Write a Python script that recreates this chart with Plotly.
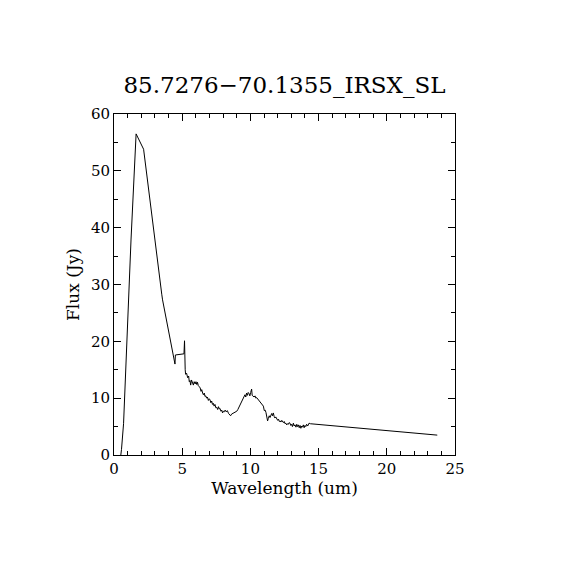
import plotly.graph_objects as go

# photometry points + IRS SL spectrum + long-wavelength point
wavelength = [
    0.50, 0.55, 0.70, 1.25, 1.62, 2.17, 3.50, 3.56, 4.47, 4.50, 5.13, 5.17,
    5.22, 5.25, 5.32, 5.40, 5.47, 5.52, 5.57, 5.62, 5.68, 5.74, 5.82, 5.88,
    5.95, 6.01, 6.07, 6.12, 6.18, 6.26, 6.32, 6.38, 6.43, 6.50, 6.55, 6.62,
    6.67, 6.73, 6.79, 6.85, 6.92, 6.98, 7.04, 7.10, 7.16, 7.22, 7.28, 7.34,
    7.40, 7.47, 7.53, 7.60, 7.66, 7.72, 7.77, 7.84, 7.90, 7.96, 8.02, 8.08,
    8.15, 8.22, 8.31, 8.40, 8.48, 8.55, 8.62, 8.70, 8.78, 8.86, 8.94, 9.00,
    9.08, 9.16, 9.24, 9.32, 9.40, 9.48, 9.55, 9.60, 9.66, 9.72, 9.78, 9.84,
    9.90, 9.96, 10.02, 10.09, 10.13, 10.20, 10.27, 10.34, 10.40, 10.46, 10.52,
    10.58, 10.65, 10.72, 10.80, 10.88, 10.95, 11.02, 11.08, 11.14, 11.20,
    11.26, 11.31, 11.38, 11.44, 11.50, 11.56, 11.62, 11.68, 11.74, 11.80,
    11.86, 11.93, 12.00, 12.06, 12.12, 12.18, 12.24, 12.30, 12.36, 12.42,
    12.48, 12.54, 12.60, 12.66, 12.72, 12.78, 12.84, 12.90, 12.96, 13.02,
    13.08, 13.15, 13.21, 13.27, 13.34, 13.40, 13.46, 13.52, 13.58, 13.64,
    13.70, 13.76, 13.82, 13.88, 13.94, 14.00, 14.06, 14.12, 14.20, 14.30,
    14.40, 23.70,
]

flux = [
    0.0, 1.0, 5.5, 38.0, 56.5, 53.8, 28.3, 27.3, 16.0, 17.6, 17.8, 20.1,
    15.0, 14.2, 14.4, 13.6, 13.9, 12.9, 13.1, 12.3, 13.2, 12.6, 12.3, 12.9,
    12.5, 12.9, 12.4, 12.8, 12.2, 12.0, 11.8, 11.2, 11.5, 10.9, 10.6, 10.9,
    10.3, 10.4, 10.0, 10.2, 9.6, 9.9, 9.7, 9.2, 9.5, 8.9, 9.1, 8.6,
    8.9, 8.3, 8.4, 8.0, 8.5, 8.1, 8.2, 7.7, 7.9, 7.4, 7.7, 7.6,
    7.9, 7.6, 7.8, 7.3, 7.1, 6.9, 7.2, 7.3, 7.4, 7.5, 7.6, 7.7,
    8.0, 8.4, 8.8, 9.3, 9.7, 10.0, 10.5, 10.6, 10.2, 10.9, 10.5, 11.0,
    10.8, 10.4, 11.0, 11.6, 10.5, 10.4, 10.2, 10.4, 10.0, 10.1, 9.9,
    9.7, 9.5, 9.3, 9.0, 8.8, 8.6, 7.8, 7.9, 7.5, 6.6,
    6.0, 6.4, 6.9, 6.6, 7.0, 7.3, 6.9, 7.4, 6.8, 6.5,
    6.7, 6.3, 6.1, 6.3, 5.9, 6.0, 5.8, 6.1, 5.8, 5.7,
    5.9, 5.5, 5.6, 5.3, 5.5, 5.4, 5.7, 5.6, 5.2, 5.4,
    5.0, 5.6, 5.1, 5.3, 4.9, 5.4, 5.0, 5.3, 4.8, 5.2,
    4.7, 5.1, 4.9, 5.3, 4.8, 5.2, 5.0, 5.4, 5.1, 5.6,
    5.5, 3.5,
]

font = "DejaVu Serif"

fig = go.Figure()
fig.add_trace(go.Scatter(x=wavelength, y=flux, mode="lines",
                         line=dict(color="black", width=1)))

axis_style = dict(
    showline=True, linecolor="black", linewidth=1, mirror="ticks",
    ticks="inside", tickcolor="black", ticklen=7, tickwidth=1,
    showgrid=False, zeroline=False,
    tickfont=dict(family=font, size=15, color="black"),
)

fig.update_xaxes(range=[0, 25], dtick=5,
                 minor=dict(dtick=1, ticks="inside", ticklen=4, tickcolor="black"),
                 title=dict(text="Wavelength (um)", standoff=4,
                            font=dict(family=font, size=17, color="black")),
                 **axis_style)
fig.update_yaxes(range=[0, 60], dtick=10,
                 minor=dict(dtick=5, ticks="inside", ticklen=4, tickcolor="black"),
                 title=dict(text="Flux (Jy)", standoff=6,
                            font=dict(family=font, size=17, color="black")),
                 **axis_style)

fig.update_layout(
    width=570, height=570,
    margin=dict(l=106, r=123, t=106, b=123),
    plot_bgcolor="white", paper_bgcolor="white",
    showlegend=False,
    title=dict(text="85.7276\u221270.1355_IRSX_SL", x=(106 + 170.5) / 570,
               xanchor="center", y=1 - 77 / 570, yanchor="middle",
               yref="container",
               font=dict(family=font, size=23, color="black")),
)

fig.write_html("out.html")
